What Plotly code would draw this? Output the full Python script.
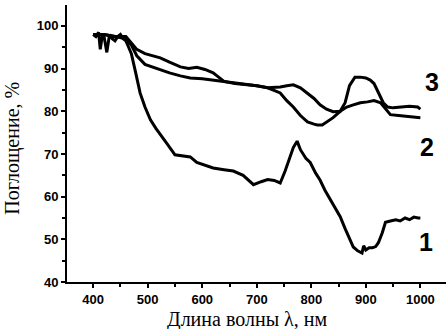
import plotly.graph_objects as go

# Curve 1
wl1 = [400, 405, 410, 413, 417, 420, 425, 430, 435, 440, 445, 450, 455, 460, 465, 470, 478, 486, 495, 505,
       515, 523, 535, 550, 565, 578, 590, 605, 620, 640, 657, 675, 694, 708, 720, 732, 743, 752, 760, 767,
       774, 780, 790, 798, 808, 816, 825, 835, 845, 853, 862, 870, 877, 885, 893, 896, 900, 906, 912, 918,
       923, 930, 936, 945, 955, 963, 972, 980, 988, 996, 1000]
ab1 = [98, 97.5, 98.5, 94.5, 98, 97.5, 93.8, 98, 97, 96.5, 97.5, 98, 97, 96.5, 95, 93.5, 89, 84.3, 81, 78,
       76, 74.5, 72.5, 69.8, 69.5, 69.3, 68, 67.3, 66.7, 66.3, 66, 65, 62.8, 63.5, 64, 63.8, 63.2, 66, 69, 71.5,
       73, 71, 69, 68, 65.5, 63.9, 61.5, 59.3, 57, 55.3, 52.5, 50, 48.2, 47.3, 46.8, 48.5, 47.5, 48, 48, 48.3,
       49.2, 51.5, 54, 54.3, 54.6, 54.3, 55, 54.6, 55.2, 55, 55]

# Curve 2
wl2 = [400, 420, 440, 460, 470, 480, 495, 510, 523, 540, 560, 578, 600, 620, 640, 660, 680, 700, 720, 730,
       743, 755, 767, 780, 793, 805, 811, 820, 829, 840, 853, 865, 877, 890, 903, 915, 927, 936, 945, 960,
       975, 990, 1000]
ab2 = [98, 98, 97.5, 97, 95.5, 93, 91, 90.3, 89.7, 89, 88.3, 87.8, 87.6, 87.3, 87, 86.6, 86.3, 86, 85.5, 85,
       84.3, 82.5, 81, 79, 77.5, 77, 76.8, 76.8, 77.5, 78.5, 80, 81, 81.5, 82, 82.2, 82.5, 82, 80.5, 79.2, 79,
       78.8, 78.7, 78.5]

# Curve 3
wl3 = [400, 420, 440, 460, 470, 480, 495, 510, 523, 540, 560, 575, 590, 605, 620, 630, 640, 660, 680, 700,
       720, 743, 755, 767, 780, 793, 805, 816, 828, 840, 853, 862, 870, 880, 890, 900, 908, 915, 921, 927,
       932, 940, 950, 965, 980, 995, 1000]
ab3 = [98, 98, 97.5, 97.5, 96, 94.5, 93.5, 93, 92.5, 91.5, 90.4, 90, 90.3, 89.8, 89, 88, 87, 86.5, 86.2, 86,
       85.5, 85.7, 86, 86.2, 85.5, 84.3, 83, 81.5, 80.5, 79.9, 80, 82, 86, 88, 88, 87.8, 87.3, 86.5, 85, 83.5,
       82, 81, 80.8, 81, 81.2, 81, 80.5]

curve_labels = ["1", "2", "3"]
label_x = [993, 996, 1005]
label_y = [49.4, 71.7, 86.9]

x_ticks = [400, 500, 600, 700, 800, 900, 1000]
y_ticks = [40, 50, 60, 70, 80, 90, 100]

fig = go.Figure()
for wl, ab in [(wl1, ab1), (wl2, ab2), (wl3, ab3)]:
    fig.add_trace(go.Scatter(x=wl, y=ab, mode="lines",
                             line=dict(color="black", width=3), showlegend=False))

for t, lx, ly in zip(curve_labels, label_x, label_y):
    fig.add_annotation(x=lx, y=ly, text=t, showarrow=False, xanchor="left",
                       font=dict(family="Liberation Sans, Arial", size=25, color="black", weight="bold"))

serif = dict(family="Liberation Serif, Times New Roman", size=20, color="black")
fig.add_annotation(xref="paper", yref="paper", x=0.475, y=-0.135, text="Длина волны λ, нм",
                   showarrow=False, xanchor="center", yanchor="middle", font=serif)
fig.add_annotation(xref="paper", yref="paper", x=-0.1425, y=0.485, text="Поглощение, %",
                   showarrow=False, xanchor="center", yanchor="middle", textangle=-90, font=serif)

fig.update_layout(
    width=446, height=329,
    margin=dict(l=67, r=0, t=5, b=47),
    paper_bgcolor="white", plot_bgcolor="white",
    xaxis=dict(range=[352, 1047], tickvals=x_ticks, showgrid=False, zeroline=False, automargin=False,
               showline=True, linecolor="black", linewidth=2,
               ticks="outside", ticklen=4, tickwidth=1.5, tickcolor="black",
               minor=dict(dtick=50, tick0=0, ticks="outside", ticklen=3, tickcolor="black"),
               tickfont=dict(family="Liberation Sans, Arial", size=13, color="black", weight="bold")),
    yaxis=dict(range=[40, 104.9], tickvals=y_ticks, showgrid=False, zeroline=False, automargin=False,
               showline=True, linecolor="black", linewidth=2,
               ticks="outside", ticklen=4, tickwidth=1.5, tickcolor="black",
               minor=dict(dtick=5, tick0=0, ticks="outside", ticklen=3, tickcolor="black"),
               tickfont=dict(family="Liberation Sans, Arial", size=13, color="black", weight="bold")),
)

fig.write_html("out.html", config={"displayModeBar": False},
               post_script="document.body.style.margin='0';document.body.style.overflow='hidden';")
